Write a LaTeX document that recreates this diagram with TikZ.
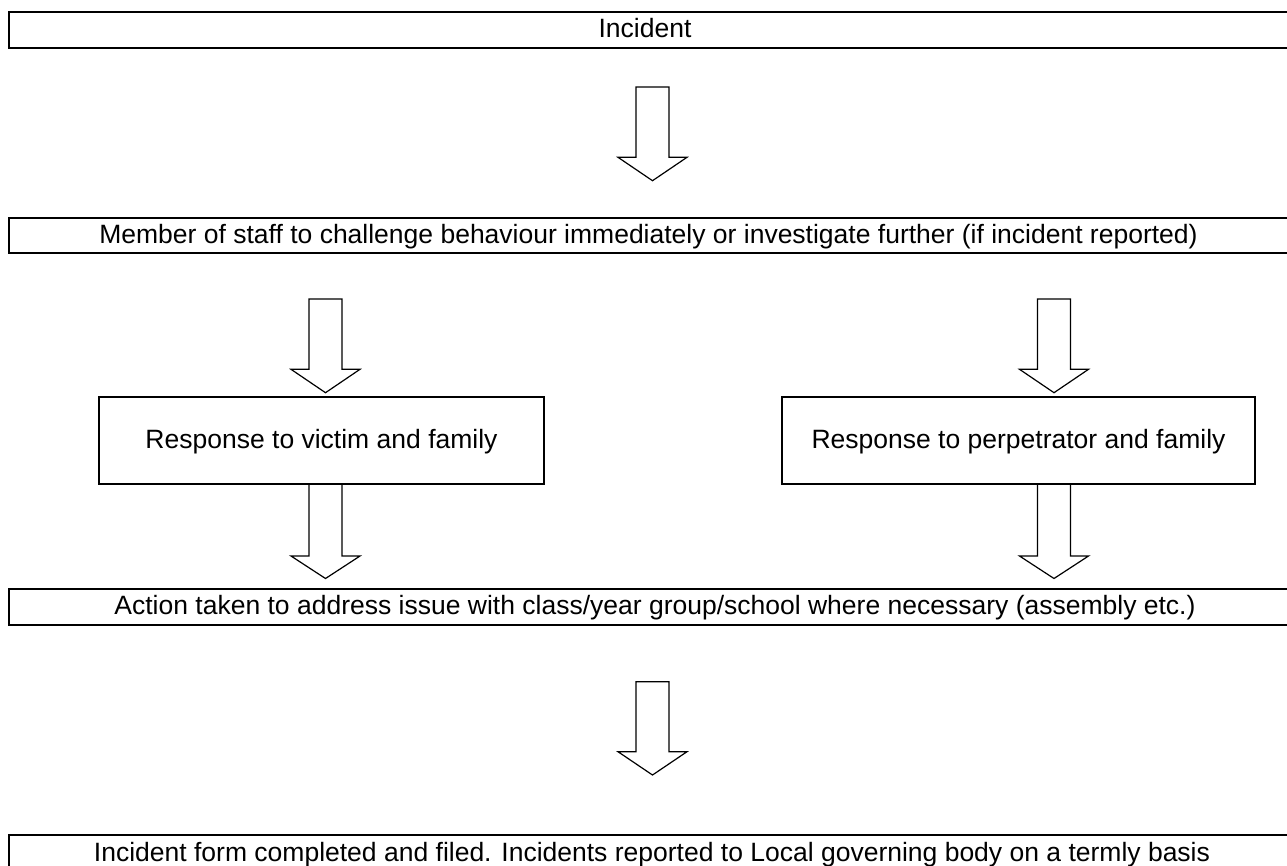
\documentclass[tikz,border=0pt]{standalone}
\usepackage{fontspec}
\setmainfont{Liberation Sans}
\newcommand\blkarrow[5]{% name, cx, top, base, tip
  \draw[barr] (#2-16.5,#3) -- (#2+16.5,#3) -- (#2+16.5,#4) -- (#2+34.5,#4)
    -- (#2,#5) coordinate (#1) -- (#2-34.5,#4) -- (#2-16.5,#4) -- cycle;}
\begin{document}
\begin{tikzpicture}[x=1pt,y=-1pt,
  txt/.style={font=\fontsize{26.5}{30}\selectfont, inner sep=0pt, anchor=base},
  bar/.style={line width=2pt},
  box/.style={draw, line width=1.7pt, inner sep=0pt},
  barr/.style={line width=1.2pt, line join=miter}]
\useasboundingbox (0,0) rectangle (1287,865);
\clip (0,0) rectangle (1287,865);
% bars (extend beyond right edge)
\draw[bar] (1300,11.5) -- (8.5,11.5) -- (8.5,48) -- (1300,48);
\node[txt] (incident) at (645,37.1) {Incident};
\draw[bar] (1300,217.7) -- (8.5,217.7) -- (8.5,253.3) -- (1300,253.3);
\node[txt] (staff) at (648.5,243.3) {Member of staff to challenge behaviour immediately or investigate further (if incident reported)};
\draw[bar] (1300,589) -- (8.5,589) -- (8.5,625) -- (1300,625);
\node[txt] (action) at (655,614.6) {Action taken to address issue with class/year group/school where necessary (assembly etc.)};
\draw[bar] (1300,835) -- (8.5,835) -- (8.5,880) -- (1300,880);
\node[txt] (form) at (652,861) {Incident form completed and filed. Incidents reported to Local governing body on a termly basis};
% response boxes
\draw[box] (99,396.7) rectangle (544,484);
\node[txt] (victim) at (321.5,448) {Response to victim and family};
\draw[box] (782,396.7) rectangle (1255,484);
\node[txt] (perp) at (1018.5,448) {Response to perpetrator and family};
% block arrows
\blkarrow{a1}{652.5}{87}{157.3}{180.7}
\blkarrow{a2}{325.5}{299}{369.3}{392.7}
\blkarrow{a3}{1054}{299}{369.3}{392.7}
\blkarrow{a4}{325.5}{484}{556}{578.5}
\blkarrow{a5}{1054}{484}{556}{578.5}
\blkarrow{a6}{652.5}{681.7}{751.7}{775}
\end{tikzpicture}
\end{document}
